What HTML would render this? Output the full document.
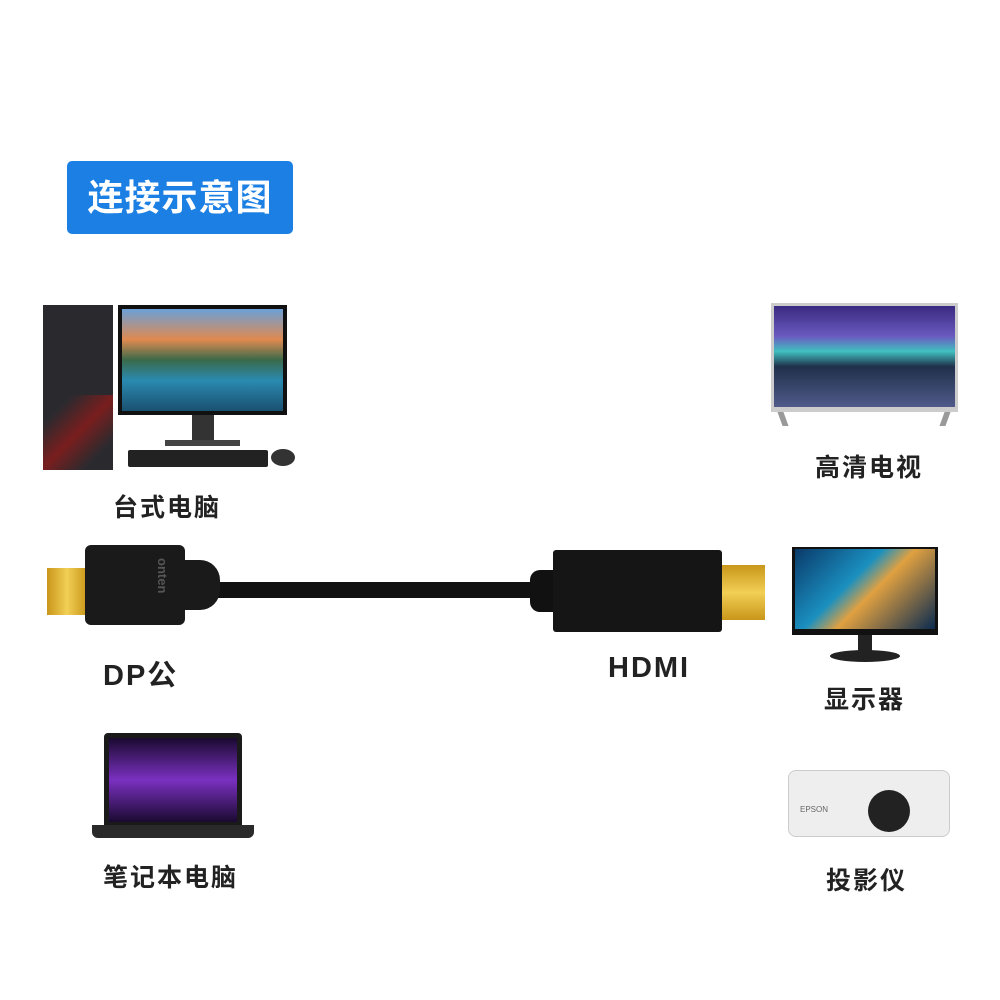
<!DOCTYPE html>
<html><head><meta charset="utf-8"><style>
html,body{margin:0;padding:0;background:#fff;}
body{width:1000px;height:1000px;position:relative;overflow:hidden;font-family:"Liberation Sans","Noto Sans CJK SC",sans-serif;}
.a{position:absolute;}
.lbl{position:absolute;font-size:25px;font-weight:bold;color:#222;letter-spacing:2px;white-space:nowrap;}
</style></head><body>
<div class="a" style="left:67px;top:161px;width:226px;height:73px;background:#1c7fe3;border-radius:5px;color:#fff;font-size:36px;font-weight:bold;line-height:73px;text-align:center;letter-spacing:1px;">连接示意图</div>

<!-- desktop -->
<div class="a" style="left:43px;top:305px;width:70px;height:165px;background:#2a2a2e;"></div>
<div class="a" style="left:43px;top:395px;width:70px;height:75px;background:linear-gradient(135deg,#2a2a2e 20%,#7a1e1e 50%,#2a2a2e 80%);"></div>
<div class="a" style="left:118px;top:305px;width:169px;height:110px;background:#111;"></div>
<div class="a" style="left:122px;top:309px;width:161px;height:102px;background:linear-gradient(180deg,#6aa0d8 0%,#e08a50 30%,#3a6a4a 50%,#2a8ab0 70%,#1a5070 100%);"></div>
<div class="a" style="left:192px;top:415px;width:22px;height:28px;background:#333;"></div>
<div class="a" style="left:165px;top:440px;width:75px;height:6px;background:#444;"></div>
<div class="a" style="left:128px;top:450px;width:140px;height:17px;background:#222;border-radius:2px;"></div>
<div class="a" style="left:271px;top:449px;width:24px;height:17px;background:#333;border-radius:50%;"></div>
<div class="lbl" style="left:113px;top:488px;">台式电脑</div>

<!-- TV -->
<div class="a" style="left:771px;top:303px;width:187px;height:109px;background:#ccc;"></div>
<div class="a" style="left:774px;top:306px;width:181px;height:101px;background:linear-gradient(180deg,#3a2a80 0%,#6a5ac0 30%,#40c0c0 45%,#20304a 60%,#505a8a 100%);"></div>
<div class="a" style="left:780px;top:412px;width:6px;height:14px;background:#999;transform:skewX(20deg);"></div>
<div class="a" style="left:942px;top:412px;width:6px;height:14px;background:#999;transform:skewX(-20deg);"></div>
<div class="lbl" style="left:815px;top:448px;">高清电视</div>

<!-- cable -->
<div class="a" style="left:210px;top:582px;width:330px;height:16px;background:#111;border-radius:8px;"></div>
<div class="a" style="left:47px;top:568px;width:40px;height:47px;background:linear-gradient(90deg,#c8961a,#f2cf55,#c8961a);"></div>
<div class="a" style="left:85px;top:545px;width:100px;height:80px;background:#1a1a1a;border-radius:6px;"></div>
<div class="a" style="left:180px;top:560px;width:40px;height:50px;background:#1a1a1a;border-radius:0 20px 20px 0;"></div>
<div class="a" style="left:140px;top:558px;width:30px;height:56px;color:#555;font-size:13px;font-weight:bold;writing-mode:vertical-rl;">onten</div>
<div class="a" style="left:530px;top:570px;width:30px;height:42px;background:#111;border-radius:10px 0 0 10px;"></div>
<div class="a" style="left:553px;top:550px;width:169px;height:82px;background:#151515;border-radius:3px;"></div>
<div class="a" style="left:722px;top:565px;width:43px;height:55px;background:linear-gradient(180deg,#c8961a,#f2cf55,#c8961a);"></div>
<div class="lbl" style="left:103px;top:652px;font-size:29px;">DP公</div>
<div class="lbl" style="left:608px;top:652px;font-size:29px;">HDMI</div>

<!-- monitor -->
<div class="a" style="left:792px;top:547px;width:146px;height:88px;background:#111;"></div>
<div class="a" style="left:795px;top:549px;width:140px;height:80px;background:linear-gradient(135deg,#0a3a6a,#1a90c0 40%,#e0a040 55%,#0a2a50);"></div>
<div class="a" style="left:858px;top:635px;width:14px;height:18px;background:#222;"></div>
<div class="a" style="left:830px;top:650px;width:70px;height:12px;background:#222;border-radius:50%;"></div>
<div class="lbl" style="left:824px;top:680px;">显示器</div>

<!-- laptop -->
<div class="a" style="left:104px;top:733px;width:138px;height:92px;background:#1a1a1a;border-radius:4px 4px 0 0;"></div>
<div class="a" style="left:109px;top:738px;width:128px;height:84px;background:linear-gradient(180deg,#1a0a30,#7a30c0 50%,#1a0a30);"></div>
<div class="a" style="left:92px;top:825px;width:162px;height:13px;background:#2a2a2a;border-radius:0 0 6px 6px;"></div>
<div class="lbl" style="left:103px;top:858px;">笔记本电脑</div>

<!-- projector -->
<div class="a" style="left:788px;top:770px;width:160px;height:65px;background:#eee;border:1px solid #ccc;border-radius:8px;"></div>
<div class="a" style="left:868px;top:790px;width:42px;height:42px;background:#222;border-radius:50%;"></div>
<div class="a" style="left:800px;top:805px;color:#666;font-size:8px;">EPSON</div>
<div class="lbl" style="left:826px;top:861px;">投影仪</div>
</body></html>
